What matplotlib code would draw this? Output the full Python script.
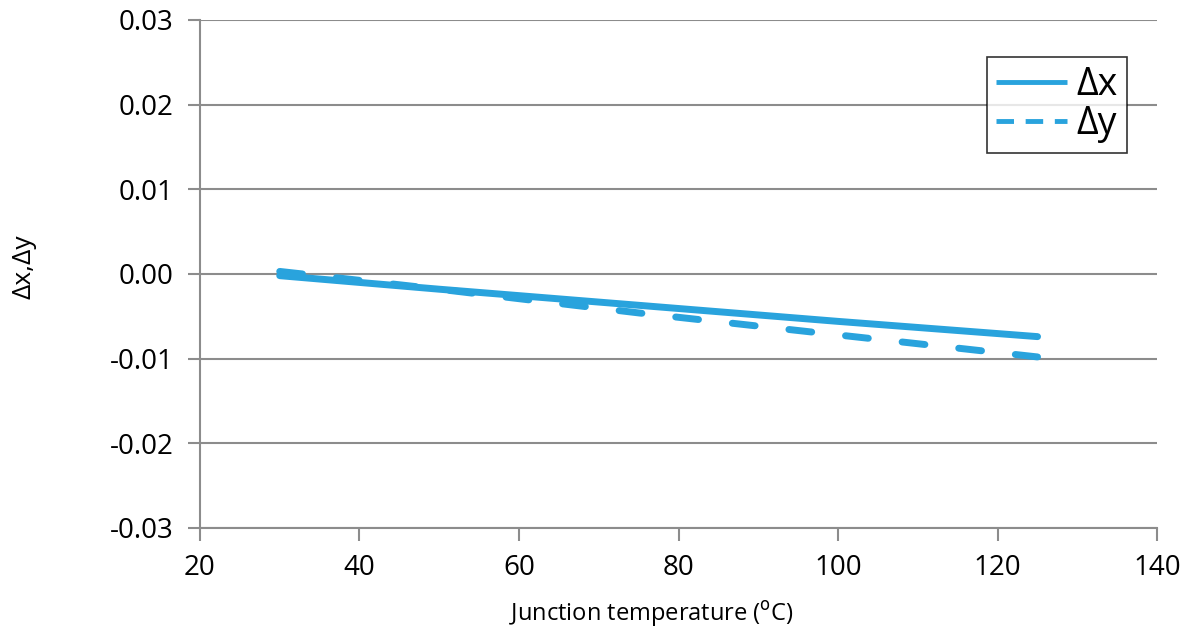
import numpy as np
import matplotlib.pyplot as plt

# junction temperature (degC) and chromaticity shifts
temp = [30, 50, 75, 100, 125]
dx = [-0.0002, -0.0018, -0.0037, -0.0056, -0.0074]
dy = [0.0003, -0.0018, -0.0046, -0.0072, -0.0098]

plt.rcParams['font.family'] = ['Open Sans', 'DejaVu Sans']
blue = '#29a3dd'
grey = '#8c8c8c'

fig = plt.figure(figsize=(11.93, 6.32), dpi=100)
ax = fig.add_axes([0.1676, 0.1646, 0.8024, 0.8038])

ax.plot(temp, dx, color=blue, lw=5, solid_capstyle='round', label='Δx')
ax.plot(temp, dy, color=blue, lw=5, dashes=(3.3, 4.9), dash_capstyle='round', label='Δy')

ax.set_xlim(20, 140)
ax.set_ylim(-0.03, 0.03)
ax.set_xticks(np.arange(20, 141, 20))
ax.set_yticks(np.arange(-0.03, 0.031, 0.01))
ax.set_yticklabels([f'{v:.2f}' for v in np.arange(-0.03, 0.031, 0.01)])
ax.yaxis.grid(True, color=grey, lw=1.5)
ax.set_axisbelow(True)
for s in ['top', 'right']:
    ax.spines[s].set_visible(False)
for s in ['left', 'bottom']:
    ax.spines[s].set_color(grey)
    ax.spines[s].set_linewidth(1.5)
ax.tick_params(colors=grey, width=1.5, length=9, labelcolor='black', labelsize=20, pad=10)

ax.set_xlabel('Junction temperature ($^{\\mathrm{o}}$C)', fontsize=17)
ax.xaxis.set_label_coords(0.472, -0.14)
ax.set_ylabel('Δx,Δy', fontsize=19)
ax.yaxis.set_label_coords(-0.171, 0.514)

leg = ax.legend(loc='upper right', bbox_to_anchor=(0.9687, 0.927), borderaxespad=0,
                fontsize=27, frameon=True, fancybox=False, edgecolor='black',
                handlelength=1.9, handletextpad=0.25, borderpad=0.25, labelspacing=0.02)
leg.get_frame().set_linewidth(1.2)
# legend keys are drawn thinner than the plotted lines
hx, hy = leg.get_lines()
hx.set_linewidth(3.5)
hx.set_solid_capstyle('butt')
hy.set_linewidth(3.5)
hy.set_dashes((3.6, 2.4))
hy.set_dash_capstyle('butt')

fig.savefig('out.png', dpi=100)
